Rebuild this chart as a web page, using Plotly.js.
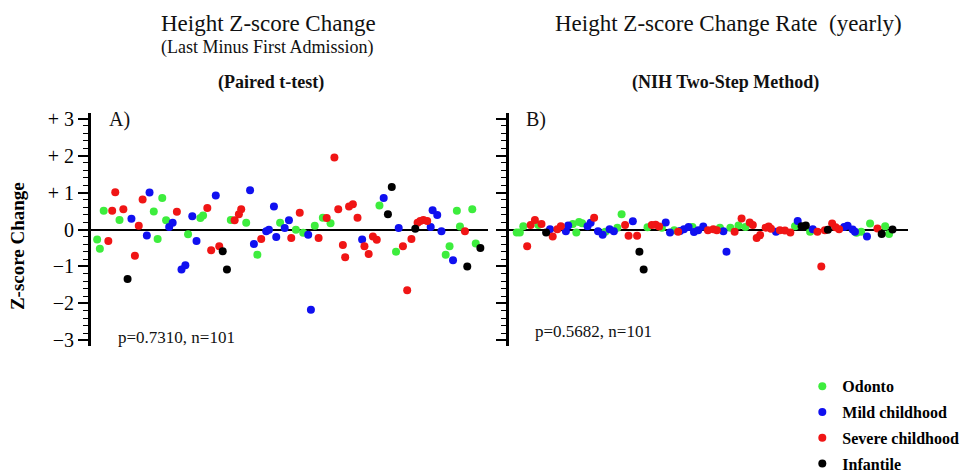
<!DOCTYPE html>
<html>
<head>
<meta charset="utf-8">
<script src="https://cdn.plot.ly/plotly-3.0.1.min.js"></script>
<style>html,body{margin:0;padding:0;background:#fff;}#chart{width:962px;height:474px;}</style>
</head>
<body>
<div id="chart"></div>
<script>
// ---------- Data (patient order index, value) ----------
const groups = ["Odonto", "Mild childhood", "Severe childhood", "Infantile"];
const groupColors = ["#3ded3d", "#1010f0", "#f01515", "#000000"];

// Panel A: Height Z-score change (last minus first admission)
const aOdontoX = [1.6,2.3,3.3,7.4,16.3,17.3,18.5,19.5,25.2,28.4,29.1,36.3,40.3,43.2,49.1,53.2,55.1,58.1,60.2,62.2,74.9,79.2,92.1,93.1,95.0,95.8,99.0,99.9];
const aOdontoY = [-0.27,-0.52,0.51,0.26,0.49,-0.26,0.85,0.25,-0.13,0.31,0.38,0.26,0.18,-0.68,0.18,-0.01,-0.09,0.10,0.32,0.17,0.65,-0.60,-0.68,-0.45,0.51,0.08,0.55,-0.38];
const aMildX = [10.5,14.5,15.2,20.3,21.2,23.5,24.5,26.3,27.4,32.4,41.3,42.3,45.5,46.2,47.5,48.1,50.3,51.4,56.4,57.1,70.4,76.0,79.9,88.2,88.7,89.9,91.0,94.0];
const aMildY = [0.29,-0.16,1.00,0.07,0.18,-1.08,-0.97,0.36,-0.31,0.92,1.06,-0.39,-0.05,-0.01,0.62,-0.20,0.04,0.25,-0.14,-2.17,-0.27,0.85,0.04,0.07,0.52,0.39,-0.05,-0.83];
const aSevereX = [4.5,5.5,6.3,8.4,11.4,12.4,13.4,22.3,30.2,31.2,33.3,37.3,38.4,39.0,44.2,52.0,54.2,59.1,61.2,63.2,64.2,65.4,66.0,67.0,68.0,69.2,71.0,72.1,73.2,74.2,81.0,82.1,83.2,84.8,85.5,86.3,87.3,97.1];
const aSevereY = [-0.31,0.51,1.01,0.55,-0.71,0.10,0.81,0.48,0.58,-0.56,-0.45,0.25,0.41,0.55,-0.26,-0.23,0.45,-0.23,0.31,1.95,0.55,-0.42,-0.75,0.62,0.68,0.32,-0.45,-0.66,-0.19,-0.28,-0.45,-1.64,-0.26,0.18,0.23,0.26,0.23,-0.05];
const aInfX = [9.5,34.2,35.3,77.1,78.1,84.2,97.7,101.1];
const aInfY = [-1.34,-0.59,-1.08,0.41,1.15,0.02,-1.00,-0.50];

// Panel B: Height Z-score change rate (yearly)
const bOdontoX = [2.0,2.8,3.7,7.6,16.5,17.4,18.1,18.9,24.9,28.0,29.1,35.8,39.5,42.7,47.4,54.5,57.2,59.3,61.1,73.9,77.8,89.8,91.0,93.3,97.2,98.2];
const bOdontoY = [-0.08,-0.08,0.09,0.12,0.15,-0.08,0.20,0.17,-0.06,0.05,0.41,0.06,0.05,-0.02,0.07,0.05,0.05,0.11,0.07,0.09,-0.06,-0.09,-0.06,0.16,0.09,-0.12];
const bMildX = [10.6,14.7,15.3,20.3,21.1,23.0,24.2,26.0,27.1,32.0,40.5,41.6,44.2,45.2,46.4,47.8,48.9,50.2,55.4,56.2,69.0,74.6,78.5,86.6,87.5,88.8,89.4,92.5];
const bMildY = [0.01,-0.05,0.11,0.09,0.18,-0.05,-0.14,0.01,-0.05,0.22,0.19,-0.08,-0.04,0.01,0.07,-0.07,-0.02,0.08,-0.05,-0.60,-0.06,0.23,0.01,0.07,0.10,0.00,-0.06,-0.19];
const bSevereX = [4.7,5.6,6.7,8.4,11.3,12.5,13.4,22.0,30.0,30.9,33.1,36.9,37.9,38.8,43.7,51.4,52.8,53.7,58.3,60.1,62.2,63.0,64.0,64.9,66.3,67.1,67.7,70.0,71.3,72.7,79.7,80.7,81.6,83.5,84.4,85.3,95.2];
const bSevereY = [-0.45,0.12,0.26,0.15,-0.19,0.01,0.09,0.32,0.12,-0.17,-0.17,0.12,0.13,0.08,-0.06,-0.02,0.01,-0.02,-0.06,0.30,0.19,0.12,-0.23,-0.15,0.05,0.08,0.02,-0.02,-0.03,-0.08,-0.06,-1.00,-0.02,0.16,0.06,0.01,0.03];
const bInfX = [9.6,33.7,34.8,75.6,76.7,82.4,96.3,99.1];
const bInfY = [-0.08,-0.60,-1.08,0.09,0.11,-0.01,-0.12,0.00];

const yTickVals = [-3,-2,-1,0,1,2,3];
const yTickText = ["\u22123","\u22122","\u22121","0","+ 1","+ 2","+ 3"];

// ---------- Build traces ----------
const aX = [aOdontoX, aMildX, aSevereX, aInfX];
const aY = [aOdontoY, aMildY, aSevereY, aInfY];
const bX = [bOdontoX, bMildX, bSevereX, bInfX];
const bY = [bOdontoY, bMildY, bSevereY, bInfY];

const serif = "Liberation Serif, Times New Roman, serif";
const traces = [];
groups.forEach((g, i) => {
  traces.push({
    type: "scatter", mode: "markers", name: "<b>" + g + "</b>",
    x: aX[i], y: aY[i], xaxis: "x", yaxis: "y",
    legendgroup: "g" + i,
    marker: {color: groupColors[i], size: 8},
    hoverinfo: "skip"
  });
});
groups.forEach((g, i) => {
  traces.push({
    type: "scatter", mode: "markers", name: g, showlegend: false,
    x: bX[i], y: bY[i], xaxis: "x2", yaxis: "y2",
    legendgroup: "g" + i,
    marker: {color: groupColors[i], size: 8},
    hoverinfo: "skip"
  });
});

const xCommon = {range: [0, 103.1], showline: false, showgrid: false, zeroline: false,
  showticklabels: false, ticks: "", fixedrange: true};
const yCommon = {range: [-3.15, 3.15], showgrid: false, zeroline: true, zerolinecolor: "#000",
  zerolinewidth: 2, showline: true, linecolor: "#000", linewidth: 3, ticks: "outside",
  ticklen: 10, tickwidth: 2, tickcolor: "#000", tickvals: yTickVals, ticktext: yTickText,
  minor: {dtick: 0.2, ticks: "outside", ticklen: 5, tickwidth: 1, tickcolor: "#000", showgrid: false},
  tickfont: {family: serif, size: 20, color: "#000"}, fixedrange: true};

function note(text, x, y, size, anchor) {
  return {text: text, xref: "paper", yref: "paper", x: x, y: y, xanchor: anchor || "center",
    yanchor: "middle", showarrow: false, font: {family: serif, size: size, color: "#111"}};
}

const yTitle = note("<b>Z-score Change</b>", -0.089, 0.43, 19);
yTitle.textangle = -90;
yTitle.font.color = "#000";

const layout = {
  width: 962, height: 474,
  margin: {l: 91, r: 54, t: 113, b: 128, autoexpand: false},
  paper_bgcolor: "#fff", plot_bgcolor: "#fff",
  font: {family: serif, color: "#000"},
  showlegend: true,
  legend: {xref: "container", yref: "container", x: 0.834, y: 0.221, xanchor: "left", yanchor: "top",
    font: {family: serif, size: 16, color: "#000"}, tracegroupgap: 2,
    itemwidth: 30, bgcolor: "rgba(0,0,0,0)"},
  xaxis: Object.assign({}, xCommon, {domain: [0, 0.486], anchor: "y"}),
  xaxis2: Object.assign({}, xCommon, {domain: [0.5116, 1], anchor: "y2"}),
  yaxis: Object.assign({}, yCommon, {anchor: "x"}),
  yaxis2: Object.assign({}, yCommon, {anchor: "x2", showticklabels: false}),
  annotations: [
    note("Height Z-score Change", 0.217, 1.382, 23),
    note("(Last Minus First Admission)", 0.216, 1.279, 18),
    note("<b>(Paired t-test)</b>", 0.220, 1.133, 18),
    note("Height Z-score Change Rate  (yearly)", 0.780, 1.382, 23),
    note("<b>(NIH Two-Step Method)</b>", 0.777, 1.133, 18),
    note("A)", 0.0196, 0.974, 20, "left"),
    note("B)", 0.5299, 0.970, 20, "left"),
    note("p=0.7310, n=101", 0.030, 0.036, 17, "left"),
    note("p=0.5682, n=101", 0.541, 0.062, 17, "left"),
    yTitle
  ]
};

Plotly.newPlot("chart", traces, layout, {staticPlot: true, displayModeBar: false});
</script>
</body>
</html>
